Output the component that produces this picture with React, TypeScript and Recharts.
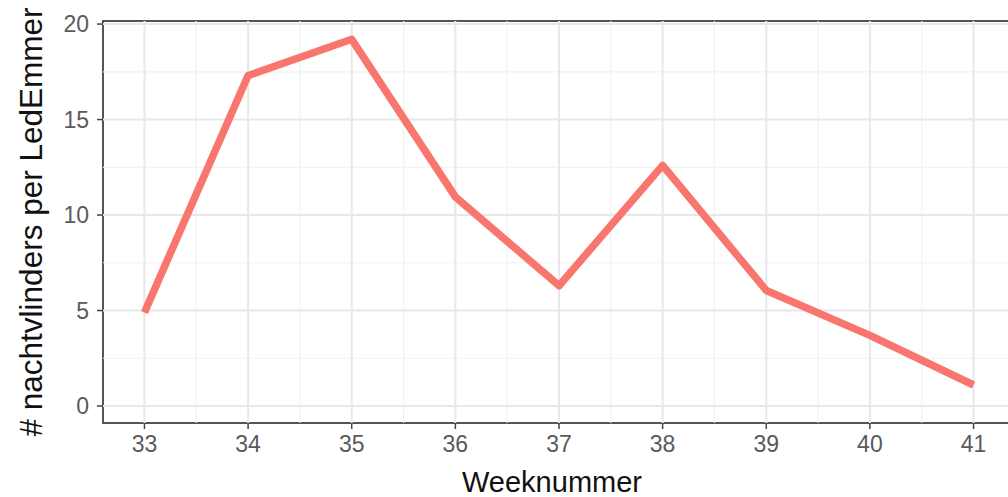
import React from 'react';
import { LineChart, Line, XAxis, YAxis, ReferenceLine, ReferenceArea } from 'recharts';

const weeks = [33, 34, 35, 36, 37, 38, 39, 40, 41];
const moths = [4.9, 17.3, 19.2, 10.95, 6.3, 12.6, 6.05, 3.7, 1.1];
const xTicks = [33, 34, 35, 36, 37, 38, 39, 40, 41];
const xMinor = [33.5, 34.5, 35.5, 36.5, 37.5, 38.5, 39.5, 40.5];
const yTicks = [0, 5, 10, 15, 20];
const yMinor = [2.5, 7.5, 12.5, 17.5];

const X_DOMAIN: [number, number] = [32.6, 41.4];
const Y_DOMAIN: [number, number] = [-0.89, 20.16];

const data = weeks.map((w, i) => ({ week: w, value: moths[i] }));

const FONT = '"Liberation Sans", Arial, sans-serif';

export default function App() {
  return (
    <div style={{ position: 'absolute', left: 0, top: 0, width: 1008, height: 497, overflow: 'hidden', background: '#fff' }}>
      <LineChart width={1030} height={497} data={data} margin={{ top: 21, right: 15, left: 0, bottom: 0 }}>
        {xMinor.map(v => (
          <ReferenceLine key={'xm' + v} x={v} stroke="#f2f2f2" strokeWidth={1.2} />
        ))}
        {yMinor.map(v => (
          <ReferenceLine key={'ym' + v} y={v} stroke="#f2f2f2" strokeWidth={1.2} />
        ))}
        {xTicks.map(v => (
          <ReferenceLine key={'xM' + v} x={v} stroke="#e8e8e8" strokeWidth={2} />
        ))}
        {yTicks.map(v => (
          <ReferenceLine key={'yM' + v} y={v} stroke="#e8e8e8" strokeWidth={2} />
        ))}
        <XAxis
          dataKey="week"
          type="number"
          domain={X_DOMAIN}
          ticks={xTicks}
          allowDataOverflow
          height={74}
          stroke="#444"
          tickSize={6}
          tickMargin={7}
          tick={{ fontSize: 23, fill: '#5a5a5a', fontFamily: FONT }}
          axisLine={false}
          tickLine={{ stroke: '#444', strokeWidth: 1.5 }}
          label={{ value: 'Weeknummer', position: 'insideBottom', offset: 5, dx: -7, fontSize: 29, fill: '#111', fontFamily: FONT }}
        />
        <YAxis
          type="number"
          domain={Y_DOMAIN}
          ticks={yTicks}
          allowDataOverflow
          width={103}
          stroke="#444"
          tickSize={6}
          tickMargin={8}
          tick={{ fontSize: 23, fill: '#5a5a5a', fontFamily: FONT }}
          axisLine={false}
          tickLine={{ stroke: '#444', strokeWidth: 1.5 }}
          label={{ value: '# nachtvlinders per LedEmmer', angle: -90, position: 'insideLeft', offset: 31, style: { textAnchor: 'middle' }, fontSize: 31.5, fill: '#111', fontFamily: FONT }}
        />
        <ReferenceArea
          x1={X_DOMAIN[0]}
          x2={X_DOMAIN[1]}
          y1={Y_DOMAIN[0]}
          y2={Y_DOMAIN[1]}
          fill="none"
          fillOpacity={0}
          stroke="#555"
          strokeWidth={2}
        />
        <Line
          type="linear"
          dataKey="value"
          stroke="#F8766D"
          strokeWidth={7.5}
          strokeLinejoin="round"
          dot={false}
          activeDot={false}
          isAnimationActive={false}
        />
      </LineChart>
    </div>
  );
}
